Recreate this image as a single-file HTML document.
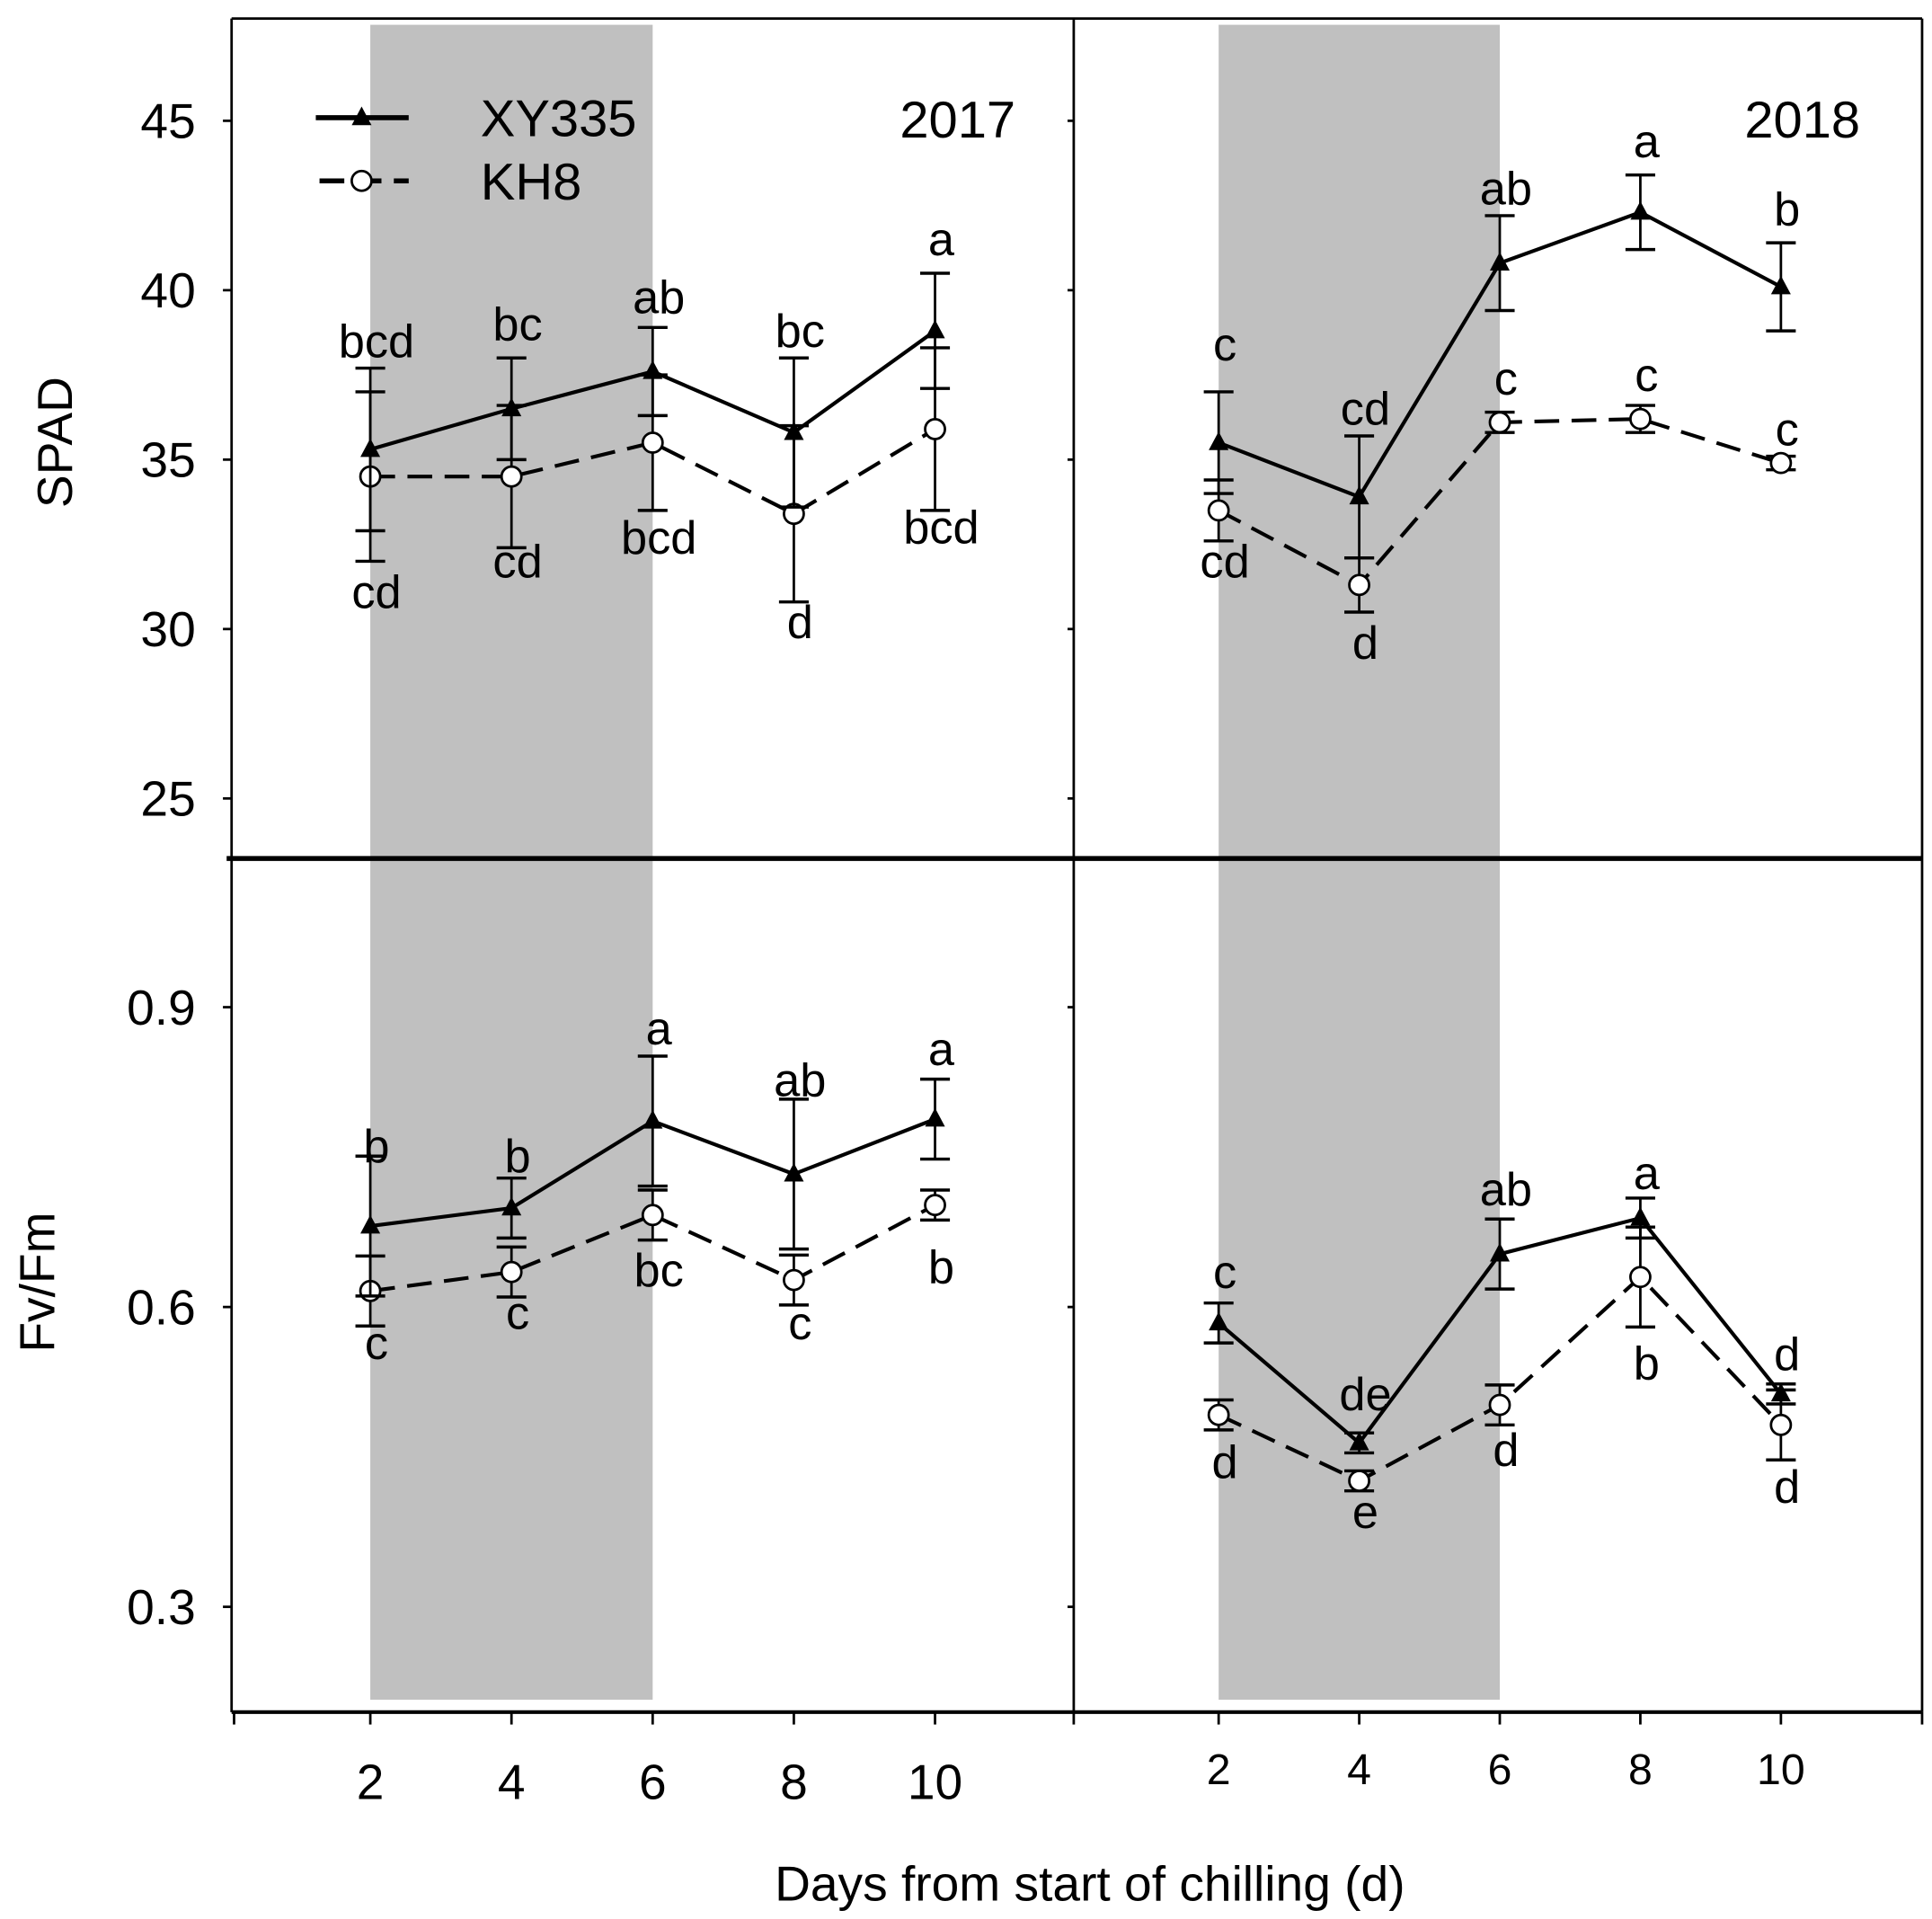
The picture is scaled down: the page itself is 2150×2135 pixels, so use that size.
<!DOCTYPE html>
<html><head><meta charset="utf-8"><style>
html,body{margin:0;padding:0;background:#fff;}
svg{display:block;}
text{font-family:"Liberation Sans",Arial,sans-serif;fill:#000;}
</style></head><body>
<svg id="chart" width="2150" height="2135" viewBox="0 0 1560 1549" preserveAspectRatio="none" xmlns="http://www.w3.org/2000/svg">
<rect x="0" y="0" width="1560" height="1549" fill="#fff"/>
</svg>
<script>
const days = [2, 4, 6, 8, 10];
// SPAD 2017
const spad17XY = [35.3, 36.5, 37.6, 35.8, 38.8];
const spad17XYErr = [2.4, 1.5, 1.3, 2.2, 1.7];
const spad17KH = [34.5, 34.5, 35.5, 33.4, 35.9];
const spad17KHErr = [2.5, 2.1, 2.0, 2.6, 2.4];
const spad17XYLab = ["bcd", "bc", "ab", "bc", "a"];
const spad17XYLabY = [38.5, 39.0, 39.8, 38.8, 41.5];
const spad17KHLab = ["cd", "cd", "bcd", "d", "bcd"];
const spad17KHLabY = [31.1, 32.0, 32.7, 30.2, 33.0];
// SPAD 2018
const spad18XY = [35.5, 33.9, 40.8, 42.3, 40.1];
const spad18XYErr = [1.5, 1.8, 1.4, 1.1, 1.3];
const spad18KH = [33.5, 31.3, 36.1, 36.2, 34.9];
const spad18KHErr = [0.9, 0.8, 0.3, 0.4, 0.2];
const spad18XYLab = ["c", "cd", "ab", "a", "b"];
const spad18XYLabY = [38.4, 36.5, 43.0, 44.4, 42.4];
const spad18KHLab = ["cd", "d", "c", "c", "c"];
const spad18KHLabY = [32.0, 29.6, 37.4, 37.5, 35.9];
// Fv/Fm 2017
const fv17XY = [0.681, 0.699, 0.786, 0.733, 0.788];
const fv17XYErr = [0.07, 0.03, 0.065, 0.075, 0.04];
const fv17KH = [0.616, 0.635, 0.692, 0.627, 0.702];
const fv17KHErr = [0.035, 0.025, 0.025, 0.025, 0.015];
const fv17XYLab = ["b", "b", "a", "ab", "a"];
const fv17XYLabY = [0.761, 0.751, 0.879, 0.827, 0.858];
const fv17KHLab = ["c", "c", "bc", "c", "b"];
const fv17KHLabY = [0.564, 0.594, 0.637, 0.584, 0.640];
// Fv/Fm 2018
const fv18XY = [0.584, 0.464, 0.653, 0.689, 0.513];
const fv18XYErr = [0.02, 0.01, 0.035, 0.02, 0.01];
const fv18KH = [0.492, 0.426, 0.502, 0.630, 0.482];
const fv18KHErr = [0.015, 0.01, 0.02, 0.05, 0.035];
const fv18XYLab = ["c", "de", "ab", "a", "d"];
const fv18XYLabY = [0.635, 0.513, 0.718, 0.734, 0.553];
const fv18KHLab = ["d", "e", "d", "b", "d"];
const fv18KHLabY = [0.445, 0.395, 0.457, 0.544, 0.420];
const spadTicks = [25, 30, 35, 40, 45];
const fvTicks = [0.3, 0.6, 0.9];

const svg = document.getElementById('chart');
const NS = 'http://www.w3.org/2000/svg';
function mk(tag, attrs, parent) {
  const e = document.createElementNS(NS, tag);
  for (const k in attrs) e.setAttribute(k, attrs[k]);
  (parent || svg).appendChild(e);
  return e;
}
const xL = d => 299 + (d - 2) * 57;
const xR = d => 984 + (d - 2) * 56.75;
const ySpad = v => 371 - (v - 35) * 27.35;
const yFv = v => 1055 - (v - 0.6) * 806.7;

// shading
let s1 = mk('rect', {x: xL(2), y: 20, width: xL(6) - xL(2), height: 1352, fill: '#c0c0c0'});


let s2 = mk('rect', {x: xR(2), y: 20, width: xR(6) - xR(2), height: 1352, fill: '#c0c0c0'});



// frames
const frame = mk('g', {stroke: '#000', fill: 'none'});


mk('line', {x1: 187, y1: 15, x2: 1552, y2: 15, 'stroke-width': 2}, frame);
mk('line', {x1: 187, y1: 15, x2: 187, y2: 1382, 'stroke-width': 2}, frame);
mk('line', {x1: 867, y1: 15, x2: 867, y2: 1382, 'stroke-width': 2}, frame);
mk('line', {x1: 1552, y1: 15, x2: 1552, y2: 1382, 'stroke-width': 2}, frame);
mk('line', {x1: 183, y1: 693, x2: 1552, y2: 693, 'stroke-width': 4}, frame);
mk('line', {x1: 187, y1: 1382, x2: 1552, y2: 1382, 'stroke-width': 3}, frame);

// y ticks
spadTicks.forEach(t => {
  const y = ySpad(t);
  mk('line', {x1: 180, y1: y, x2: 187, y2: y, stroke: '#000', 'stroke-width': 2});
  mk('line', {x1: 862, y1: y, x2: 867, y2: y, stroke: '#000', 'stroke-width': 2});
  const tx = mk('text', {x: 158, y: y + 14, 'font-size': 40, 'text-anchor': 'end'});
  tx.textContent = t;
  
  
});
fvTicks.forEach(t => {
  const y = yFv(t);
  mk('line', {x1: 180, y1: y, x2: 187, y2: y, stroke: '#000', 'stroke-width': 2});
  mk('line', {x1: 862, y1: y, x2: 867, y2: y, stroke: '#000', 'stroke-width': 2});
  const tx = mk('text', {x: 158, y: y + 14, 'font-size': 40, 'text-anchor': 'end'});
  tx.textContent = t.toFixed(1);
  
  
});
// x ticks
[189, 867, 1552].forEach(x => mk('line', {x1: x, y1: 1382, x2: x, y2: 1392, stroke: '#000', 'stroke-width': 2}));
days.forEach(d => {
  mk('line', {x1: xL(d), y1: 1382, x2: xL(d), y2: 1392, stroke: '#000', 'stroke-width': 2});
  mk('line', {x1: xR(d), y1: 1382, x2: xR(d), y2: 1392, stroke: '#000', 'stroke-width': 2});
  const a = mk('text', {x: xL(d), y: 1452, 'font-size': 40, 'text-anchor': 'middle'});
  a.textContent = d;
  
  
  const b = mk('text', {x: xR(d), y: 1440, 'font-size': 35, 'text-anchor': 'middle'});
  b.textContent = d;
  
  
});

function series(xf, yf, vals, errs, solid, name) {
  const g = mk('g', {});
  
  
  vals.forEach((v, i) => {
    const x = xf(days[i]);
    mk('line', {x1: x, y1: yf(v - errs[i]), x2: x, y2: yf(v + errs[i]), stroke: '#000', 'stroke-width': 2}, g);
    [v - errs[i], v + errs[i]].forEach(e => mk('line', {x1: x - 12, y1: yf(e), x2: x + 12, y2: yf(e), stroke: '#000', 'stroke-width': 2.5}, g));
  });
  const pts = vals.map((v, i) => xf(days[i]) + ',' + yf(v)).join(' ');
  mk('polyline', {points: pts, fill: 'none', stroke: '#000', 'stroke-width': 3, 'stroke-dasharray': solid ? 'none' : '20,10'}, g);
  vals.forEach((v, i) => {
    const x = xf(days[i]), y = yf(v);
    if (solid) mk('polygon', {points: `${x},${y - 9} ${x - 8},${y + 6} ${x + 8},${y + 6}`, fill: '#000'}, g);
    else mk('circle', {cx: x, cy: y, r: 8, fill: '#fff', stroke: '#000', 'stroke-width': 2}, g);
  });
}
function labels(xf, yf, labs, ys, name) {
  labs.forEach((l, i) => {
    const t = mk('text', {x: xf(days[i]) + 5, y: yf(ys[i]) + 13, 'font-size': 38, 'text-anchor': 'middle'});
    t.textContent = l;
    
    
  });
}
series(xL, ySpad, spad17KH, spad17KHErr, false, 'series-kh8-spad-2017');
series(xL, ySpad, spad17XY, spad17XYErr, true, 'series-xy335-spad-2017');
series(xR, ySpad, spad18KH, spad18KHErr, false, 'series-kh8-spad-2018');
series(xR, ySpad, spad18XY, spad18XYErr, true, 'series-xy335-spad-2018');
series(xL, yFv, fv17KH, fv17KHErr, false, 'series-kh8-fvfm-2017');
series(xL, yFv, fv17XY, fv17XYErr, true, 'series-xy335-fvfm-2017');
series(xR, yFv, fv18KH, fv18KHErr, false, 'series-kh8-fvfm-2018');
series(xR, yFv, fv18XY, fv18XYErr, true, 'series-xy335-fvfm-2018');
labels(xL, ySpad, spad17XYLab, spad17XYLabY, 'sig-letter');
labels(xL, ySpad, spad17KHLab, spad17KHLabY, 'sig-letter');
labels(xR, ySpad, spad18XYLab, spad18XYLabY, 'sig-letter');
labels(xR, ySpad, spad18KHLab, spad18KHLabY, 'sig-letter');
labels(xL, yFv, fv17XYLab, fv17XYLabY, 'sig-letter');
labels(xL, yFv, fv17KHLab, fv17KHLabY, 'sig-letter');
labels(xR, yFv, fv18XYLab, fv18XYLabY, 'sig-letter');
labels(xR, yFv, fv18KHLab, fv18KHLabY, 'sig-letter');
</script>
<script>
// static text & legend
(function(){
  const s = document.getElementById('chart');
  s.insertAdjacentHTML('beforeend', `
  <g>
    <line x1="255" y1="95" x2="330" y2="95" stroke="#000" stroke-width="4"/>
    <polygon points="292,86 284,101 300,101" fill="#000"/>
    <text x="388" y="110" font-size="42">XY335</text>
    <line x1="258" y1="146" x2="330" y2="146" stroke="#000" stroke-width="4" stroke-dasharray="20,10"/>
    <circle cx="292" cy="146" r="8" fill="#fff" stroke="#000" stroke-width="2"/>
    <text x="388" y="161" font-size="42">KH8</text>
  </g>
  <text x="820" y="111" font-size="42" text-anchor="end">2017</text>
  <text x="1502" y="111" font-size="42" text-anchor="end">2018</text>
  <text transform="translate(58,357) rotate(-90)" font-size="40" text-anchor="middle">SPAD</text>
  <text transform="translate(44,1035) rotate(-90)" font-size="40" text-anchor="middle">Fv/Fm</text>
  <text x="880" y="1534" font-size="40" text-anchor="middle">Days from start of chilling (d)</text>
  `);
})();
</script>
</body></html>
